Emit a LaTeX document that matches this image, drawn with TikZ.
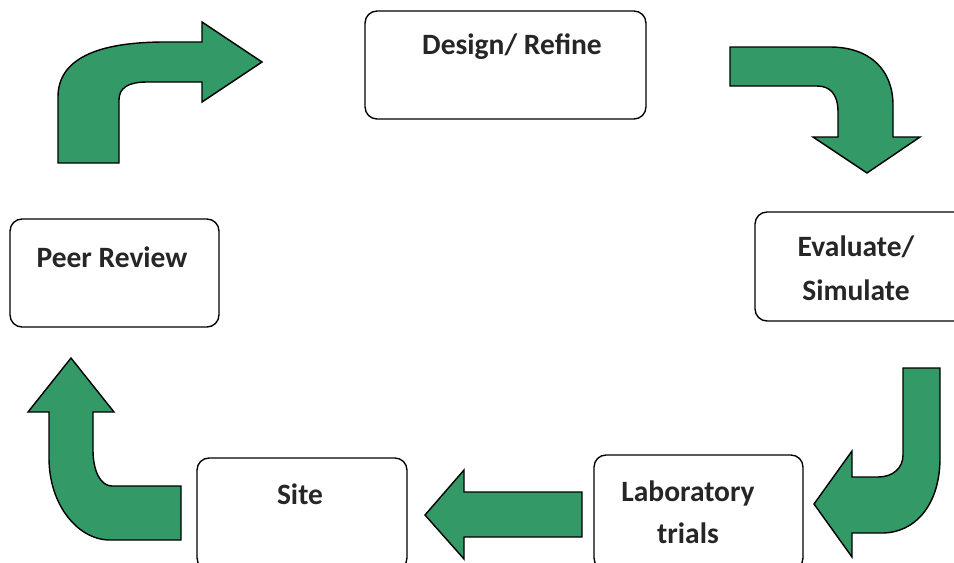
\documentclass[tikz,border=0pt]{standalone}
\usepackage{fontspec}
\setmainfont{Carlito}
\usepackage{xcolor}
\usetikzlibrary{positioning}
\definecolor{arrowgreen}{RGB}{51,153,102}

\begin{document}
\begin{tikzpicture}[x=0.02cm, y=-0.02cm,
	box/.style={draw, rounded corners=0.24cm, line width=0.8pt, fill=white},
	txt/.style={font=\fontsize{16.8}{20}\selectfont\bfseries, text=black!85, align=center},
	bigarrow/.style={draw, fill=arrowgreen, line width=0.8pt, line join=miter}
]
	\clip (0,0) rectangle (954,562);

	% Stage boxes
	\node[box, minimum width=5.62cm, minimum height=2.16cm] (design) at (505.5,65) {};
	\node[box, minimum width=4.4cm,  minimum height=2.18cm] (evaluate) at (865,266.5) {};
	\node[box, minimum width=4.18cm, minimum height=2.3cm]  (lab) at (698.5,512.5) {};
	\node[box, minimum width=4.2cm,  minimum height=2.24cm] (site) at (302,514) {};
	\node[box, minimum width=4.18cm, minimum height=2.16cm] (peer) at (114.5,273) {};

	% Labels
	\node[txt] (designtxt) at (512,47) {Design/ Refine};
	\node[txt] (evaltxt) at (856,268) {Evaluate/\\[5pt]Simulate};
	\node[txt] (labtxt) at (688,512) {Laboratory\\[4pt]trials};
	\node[txt] (sitetxt) at (300,494) {Site};
	\node[txt] (peertxt) at (112,257) {Peer Review};

	% Peer review -> design
	\draw[bigarrow] (58,163) -- (58,97) .. controls (58,60) and (95,42) .. (165,42)
		-- (202,42) -- (202,22) -- (262,62) -- (202,102) -- (202,82) -- (147,82)
		.. controls (128,82) and (119,88) .. (119,100) -- (119,163) -- cycle;

	% Design -> evaluate
	\draw[bigarrow] (730,47) -- (830,47) .. controls (870,47) and (893,70) .. (893,105)
		-- (893,137) -- (920,137) -- (867,173) -- (813,137) -- (838,137) -- (838,112)
		.. controls (838,94) and (830,86) .. (817,86) -- (730,86) -- cycle;

	% Evaluate -> laboratory
	\draw[bigarrow] (903,368) -- (940,368) -- (940,458) .. controls (940,505) and (915,533) .. (882,533)
		-- (852,533) -- (852,557) -- (814,504) -- (852,451) -- (852,477) -- (878,477)
		.. controls (893,477) and (903,468) .. (903,455) -- cycle;

	% Laboratory -> site
	\draw[bigarrow] (582,492) -- (464,492) -- (464,470) -- (425,515) -- (464,559)
		-- (464,537) -- (582,537) -- cycle;

	% Site -> peer review
	\draw[bigarrow] (181,486) -- (112,486) .. controls (100,486) and (93,470) .. (93,450)
		-- (93,412) -- (114,412) -- (71,358) -- (28,412) -- (49,412) -- (49,458)
		.. controls (49,505) and (78,540) .. (110,540) -- (181,540) -- cycle;
\end{tikzpicture}
\end{document}
